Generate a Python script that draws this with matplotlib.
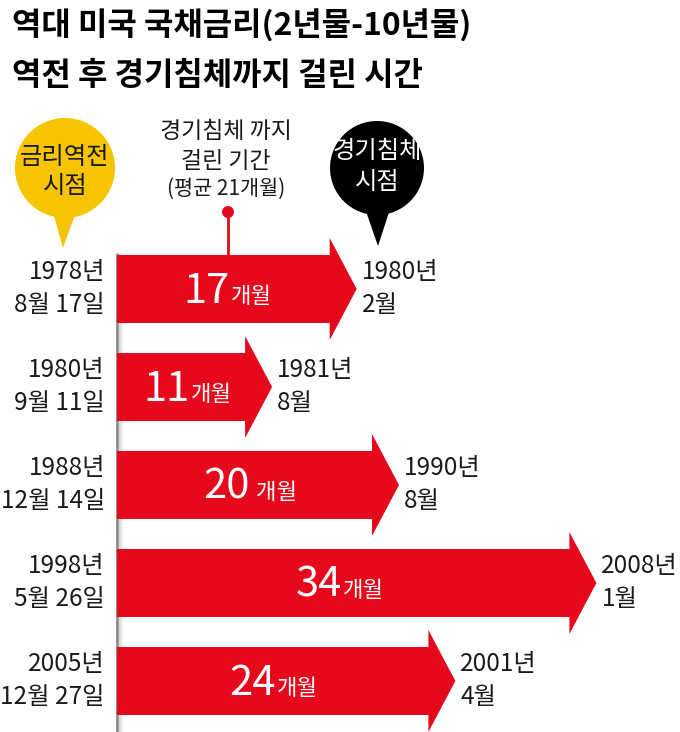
import matplotlib.pyplot as plt
from matplotlib.patches import Polygon, Circle
from matplotlib.transforms import offset_copy

plt.rcParams['font.family'] = ['Noto Sans CJK KR', 'DejaVu Sans']

# data
months = [17, 11, 20, 34, 24]
units = ['개월', '개월', ' 개월', '개월', '개월']
start_year = ['1978년', '1980년', '1988년', '1998년', '2005년']
start_day = ['8월 17일', '9월 11일', '12월 14일', '5월 26일', '12월 27일']
end_year = ['1980년', '1981년', '1990년', '2008년', '2001년']
end_month = ['2월', '8월', '8월', '1월', '4월']

title1 = '역대 미국 국채금리(2년물-10년물)'
title2 = '역전 후 경기침체까지 걸린 시간'

RED = '#e5091b'
YELLOW = '#f6c400'
TXT = '#1a1a1a'

fig = plt.figure(figsize=(6.8, 7.32), dpi=100)

# pixel layer for title and bubbles
bg = fig.add_axes([0, 0, 1, 1])
bg.set_xlim(0, 680)
bg.set_ylim(732, 0)
bg.axis('off')

# data layer: x = months, y = row
ax = fig.add_axes([0, 0, 1, 1])
ax.set_xlim(-117 / 14.1, 563 / 14.1)
ax.set_ylim((732 - 289) / 98, -289 / 98)
ax.axis('off')
ax.patch.set_alpha(0)

# title
bg.text(12, 26, title1, fontsize=23, fontweight='bold', color='black', va='center', ha='left')
bg.text(12, 76, title2, fontsize=23, fontweight='bold', color='black', va='center', ha='left')

# yellow bubble
bg.add_patch(Polygon([(49, 198), (81, 198), (63, 248)], closed=True, color=YELLOW, lw=0))
bg.add_patch(Circle((65, 168), 50, color=YELLOW, lw=0))
bg.text(65, 157, '금리역전', fontsize=17.5, color=TXT, ha='center', va='center')
bg.text(65, 186, '시점', fontsize=17.5, color=TXT, ha='center', va='center')

# black bubble
bg.add_patch(Polygon([(362, 200), (393, 200), (378, 246)], closed=True, color='black', lw=0))
bg.add_patch(Circle((377, 168), 47, color='black', lw=0))
bg.text(377, 151, '경기침체', fontsize=17.5, color='white', ha='center', va='center')
bg.text(377, 182, '시점', fontsize=17.5, color='white', ha='center', va='center')

# middle note
bg.text(226, 132, '경기침체 까지', fontsize=16.5, color=TXT, ha='center', va='center')
bg.text(226, 161, '걸린 기간', fontsize=16.5, color=TXT, ha='center', va='center')
bg.text(226, 189, '(평균 21개월)', fontsize=15, color=TXT, ha='center', va='center')
bg.plot([228, 228], [212, 256], color=RED, lw=2)
bg.add_patch(Circle((228, 212), 6, color=RED, lw=0))

# vertical gray line with shadow
for k in range(0, 6):
    tr = offset_copy(ax.transData, fig=fig, x=k, y=0, units='dots')
    ax.plot([0, 0], [-0.37, 4.6], color='#888888' if k == 0 else '#b0b0b0',
            lw=2 if k == 0 else 1, alpha=1 if k == 0 else 0.6 * (1 - k / 6),
            transform=tr, zorder=1, solid_capstyle='butt')

bh = 34 / 98
hh = 51 / 98
hl = 27 / 14.1

for i, m in enumerate(months):
    pts = [(0, i - bh), (m - hl, i - bh), (m - hl, i - hh), (m, i),
           (m - hl, i + hh), (m - hl, i + bh), (0, i + bh)]
    ax.add_patch(Polygon(pts, closed=True, color=RED, lw=0, zorder=2))

    xc = m * 0.47
    ax.text(xc, i + 0.14, str(m), fontsize=30, color='white', ha='right',
            va='baseline', zorder=3)
    ax.annotate(units[i], (xc, i + 0.14), xytext=(1, 0), textcoords='offset pixels',
                fontsize=16, color='white', ha='left', va='baseline', zorder=3)

    ax.annotate(start_year[i], (0, i), xytext=(-12, 17), textcoords='offset pixels',
                fontsize=17.5, color=TXT, ha='right', va='center')
    ax.annotate(start_day[i], (0, i), xytext=(-12, -16), textcoords='offset pixels',
                fontsize=17.5, color=TXT, ha='right', va='center')
    ax.annotate(end_year[i], (m, i), xytext=(5, 17), textcoords='offset pixels',
                fontsize=17.5, color=TXT, ha='left', va='center')
    ax.annotate(end_month[i], (m, i), xytext=(5, -16), textcoords='offset pixels',
                fontsize=17.5, color=TXT, ha='left', va='center')

fig.savefig('out.png', dpi=100)
